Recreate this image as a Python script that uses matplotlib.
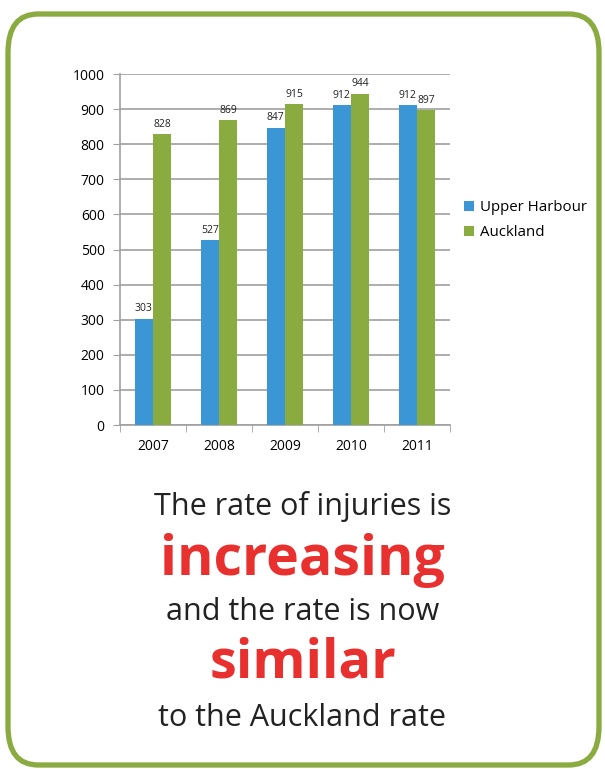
import numpy as np
import matplotlib.pyplot as plt
from matplotlib.patches import FancyBboxPatch

years = ["2007", "2008", "2009", "2010", "2011"]
upper_harbour = [303, 527, 847, 912, 912]
auckland = [828, 869, 915, 944, 897]

blue = "#3a96d4"
green = "#8aab3f"
red = "#e8302f"
grid_col = "#a0a0a0"

plt.rcParams['font.family'] = ['Open Sans', 'DejaVu Sans']

fig = plt.figure(figsize=(6.05, 7.69), dpi=100)

# rounded green frame
frame = FancyBboxPatch((8 / 605, 4 / 769), 591 / 605, 751 / 769,
                       boxstyle="round,pad=0,rounding_size=0.05",
                       transform=fig.transFigure, facecolor="white",
                       edgecolor=green, linewidth=3.8, zorder=-5)
fig.patches.append(frame)

ax = fig.add_axes([120 / 605, 1 - 425 / 769, 330 / 605, 351 / 769])
ax.set_zorder(2)
ax.patch.set_alpha(0)
x = np.arange(len(years))
w = 0.28
b1 = ax.bar(x - w / 2, upper_harbour, w, color=blue, label="Upper Harbour", zorder=3)
b2 = ax.bar(x + w / 2, auckland, w, color=green, label="Auckland", zorder=3)

for bars in (b1, b2):
    for r in bars:
        ax.text(r.get_x() + r.get_width() / 2, r.get_height() + 12, f"{int(r.get_height())}",
                ha="center", va="bottom", fontsize=7.5, color="#222222")

ax.set_ylim(0, 1000)
ax.set_yticks(range(0, 1001, 100))
ax.set_xlim(-0.5, len(years) - 0.5)
ax.set_xticks(x)
ax.set_xticklabels(years)
ax.set_xticks(np.arange(-0.5, len(years)), minor=True)
ax.tick_params(axis="x", which="major", length=0, pad=10, labelsize=10)
ax.tick_params(axis="x", which="minor", length=5, color=grid_col)
ax.tick_params(axis="y", length=5, color=grid_col, labelsize=10, pad=6)
ax.yaxis.grid(True, color=grid_col, linewidth=1.2, zorder=0)
ax.set_axisbelow(True)
for s in ["top", "right"]:
    ax.spines[s].set_visible(False)
for s in ["left", "bottom"]:
    ax.spines[s].set_color(grid_col)
    ax.spines[s].set_linewidth(1.2)

ax.legend(loc="center left", bbox_to_anchor=(1.0, 0.583), frameon=False,
          fontsize=10.8, handlelength=0.7, handleheight=0.7, handletextpad=0.4,
          labelspacing=0.65)

fig.text(0.5, 1 - 506 / 769, "The rate of injuries is", ha="center", va="center",
         fontsize=22, color="#222222")
fig.text(0.5, 1 - 561 / 769, "increasing", ha="center", va="center",
         fontsize=40, color=red, fontweight="bold")
fig.text(0.5, 1 - 612 / 769, "and the rate is now", ha="center", va="center",
         fontsize=22, color="#222222")
fig.text(0.5, 1 - 663 / 769, "similar", ha="center", va="center",
         fontsize=39, color=red, fontweight="bold")
fig.text(0.5, 1 - 718 / 769, "to the Auckland rate", ha="center", va="center",
         fontsize=22, color="#222222")

fig.savefig("out.png", dpi=100)
